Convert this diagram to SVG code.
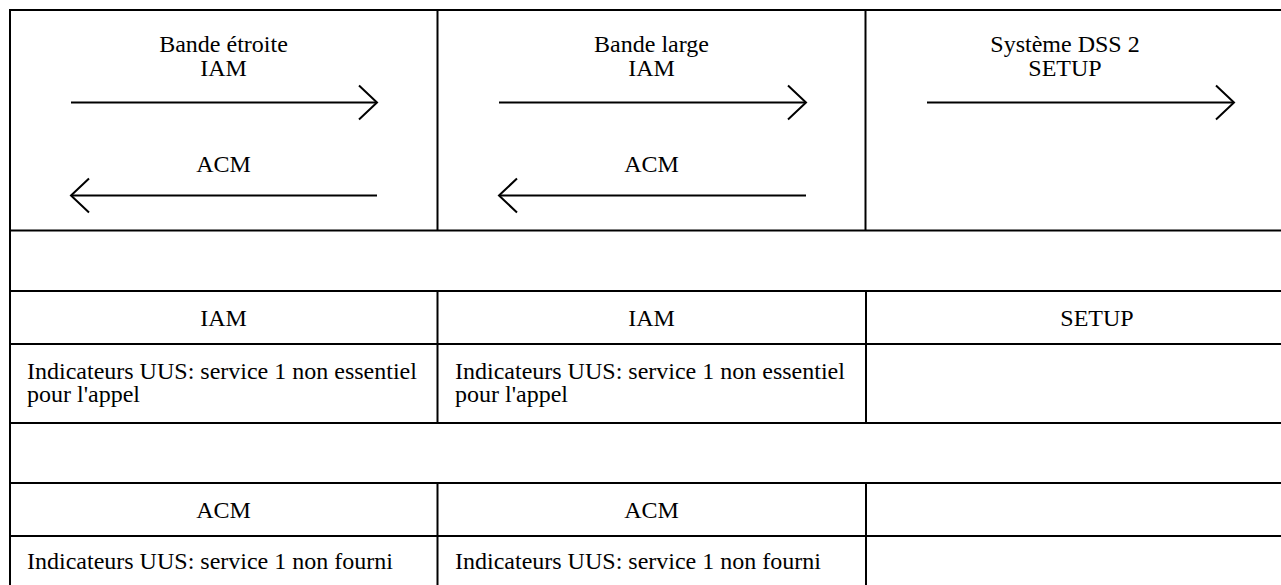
<svg xmlns="http://www.w3.org/2000/svg" width="1281" height="585" viewBox="0 0 1281 585">
  <style>
    .grid { stroke: #000; stroke-width: 2; fill: none; }
    .t { font-family: "Liberation Serif", "Times New Roman", serif; font-size: 24px; fill: #000; }
    .c { text-anchor: middle; }
    .arrow { stroke: #000; stroke-width: 2; fill: none; marker-end: url(#chev); }
  </style>
  <defs>
    <marker id="chev" markerUnits="userSpaceOnUse" markerWidth="40" markerHeight="40" viewBox="-20 -20 40 40" refX="0" refY="0" orient="auto" overflow="visible">
      <path d="M -18 -17 L 0 0 L -18 17" stroke="#000" stroke-width="2" fill="none"/>
    </marker>
  </defs>
  <rect width="1281" height="585" fill="#fff"/>

  <g id="grid" class="grid">
    <line x1="9" y1="10" x2="1290" y2="10"/>
    <line x1="10" y1="10" x2="10" y2="590"/>
    <line x1="9" y1="230.5" x2="1290" y2="230.5"/>
    <line x1="9" y1="291" x2="1290" y2="291"/>
    <line x1="9" y1="344" x2="1290" y2="344"/>
    <line x1="9" y1="423" x2="1290" y2="423"/>
    <line x1="9" y1="483" x2="1290" y2="483"/>
    <line x1="9" y1="536" x2="1290" y2="536"/>
    <line x1="437.5" y1="10" x2="437.5" y2="230.5"/>
    <line x1="437.5" y1="291" x2="437.5" y2="423"/>
    <line x1="437.5" y1="483" x2="437.5" y2="590"/>
    <line x1="865.5" y1="10" x2="865.5" y2="230.5"/>
    <line x1="866" y1="291" x2="866" y2="423"/>
    <line x1="866" y1="483" x2="866" y2="590"/>
  </g>

  <g id="head-bande-etroite">
    <text class="t c" x="223.5" y="52"><tspan x="223.5">Bande étroite</tspan><tspan x="223.5" dy="24">IAM</tspan></text>
    <text class="t c" x="223.5" y="172">ACM</text>
  </g>
  <g id="head-bande-large">
    <text class="t c" x="651.5" y="52"><tspan x="651.5">Bande large</tspan><tspan x="651.5" dy="24">IAM</tspan></text>
    <text class="t c" x="651.5" y="172">ACM</text>
  </g>
  <g id="head-dss2">
    <text class="t c" x="1065" y="52"><tspan x="1065">Système DSS 2</tspan><tspan x="1065" dy="24">SETUP</tspan></text>
  </g>

  <g id="connectors">
    <line class="arrow" x1="71" y1="102.5" x2="377" y2="102.5"/>
    <line class="arrow" x1="377" y1="195.5" x2="71" y2="195.5"/>
    <line class="arrow" x1="499" y1="102.5" x2="806" y2="102.5"/>
    <line class="arrow" x1="806" y1="195.5" x2="499" y2="195.5"/>
    <line class="arrow" x1="927" y1="102.5" x2="1234" y2="102.5"/>
  </g>

  <g id="row-iam">
    <text class="t c" x="223.5" y="326">IAM</text>
    <text class="t c" x="651.5" y="326">IAM</text>
    <text class="t c" x="1097" y="326">SETUP</text>
  </g>
  <g id="row-iam-uus">
    <text class="t" x="27" y="379"><tspan x="27">Indicateurs UUS: service 1 non essentiel</tspan><tspan x="27" dy="23">pour l'appel</tspan></text>
    <text class="t" x="455" y="379"><tspan x="455">Indicateurs UUS: service 1 non essentiel</tspan><tspan x="455" dy="23">pour l'appel</tspan></text>
  </g>
  <g id="row-acm">
    <text class="t c" x="223.5" y="518">ACM</text>
    <text class="t c" x="651.5" y="518">ACM</text>
  </g>
  <g id="row-acm-uus">
    <text class="t" x="27" y="569">Indicateurs UUS: service 1 non fourni</text>
    <text class="t" x="455" y="569">Indicateurs UUS: service 1 non fourni</text>
  </g>
</svg>
